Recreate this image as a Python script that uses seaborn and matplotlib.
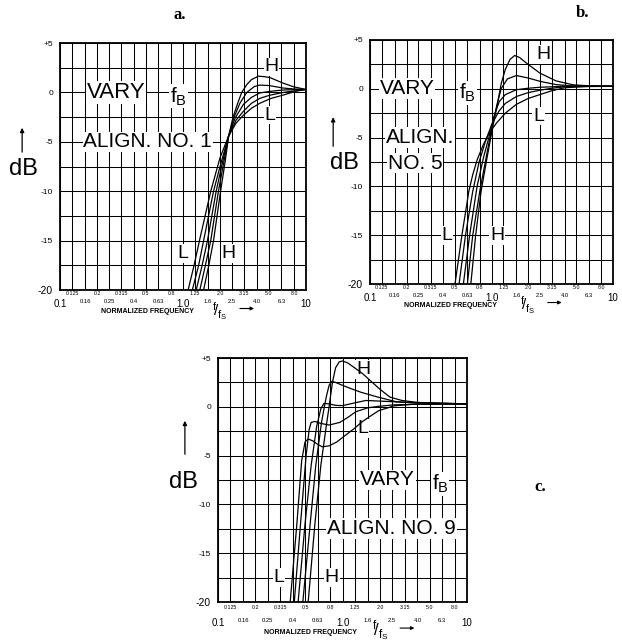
import numpy as np
import pandas as pd
import matplotlib
matplotlib.use("Agg")
import matplotlib.pyplot as plt
import seaborn as sns

# axis ticks (normalized frequency f/fs, 1/3-octave steps)
major_freq = [0.1, 0.16, 0.25, 0.4, 0.63, 1.0, 1.6, 2.5, 4.0, 6.3, 10]
major_freq_labels = ["0.1", "0.16", "0.25", "0.4", "0.63", "1.0", "1.6", "2.5", "4.0", "6.3", "10"]
minor_freq = [0.125, 0.2, 0.315, 0.5, 0.8, 1.25, 2.0, 3.15, 5.0, 8.0]
minor_freq_labels = ["0.125", "0.2", "0.315", "0.5", "0.8", "1.25", "2.0", "3.15", "5.0", "8.0"]
db_ticks = [5, 0, -5, -10, -15, -20]
db_tick_labels = ["+5", "0", "-5", "-10", "-15", "-20"]
db_minor = [2.5, -2.5, -7.5, -12.5, -17.5]

# --- a. ALIGN. NO. 1 (curves H ... L)
a_f_H = [1.47, 1.62, 1.77, 2.02, 2.2, 2.35, 2.55, 2.8, 3.0, 3.3, 3.6, 4.1, 4.6, 5.1, 6.5, 7.9, 10]
a_db_H = [-20, -17.5, -15, -10, -7, -4.4, -2.5, -1.0, 0.0, 0.8, 1.3, 1.65, 1.6, 1.5, 0.95, 0.58, 0.3]
a_f_2 = [1.37, 1.52, 1.68, 1.94, 2.15, 2.35, 2.6, 2.9, 3.3, 3.8, 4.2, 5.0, 6.5, 8.0, 10]
a_db_2 = [-20, -17.5, -15, -10, -7, -4.4, -2.5, -1.1, 0.0, 0.6, 0.75, 0.7, 0.45, 0.35, 0.3]
a_f_3 = [1.28, 1.43, 1.58, 1.86, 2.1, 2.35, 2.65, 3.1, 3.6, 4.2, 5.0, 6.5, 8.0, 10]
a_db_3 = [-20, -17.5, -15, -10, -7, -4.4, -2.6, -1.2, -0.5, -0.05, 0.1, 0.25, 0.28, 0.3]
a_f_4 = [1.19, 1.34, 1.47, 1.77, 2.05, 2.35, 2.7, 3.1, 3.6, 4.2, 5.0, 6.5, 8.0, 10]
a_db_4 = [-20, -17.5, -15, -10, -7, -4.4, -2.8, -1.9, -1.1, -0.6, -0.3, 0.0, 0.15, 0.3]
a_f_L = [1.1, 1.23, 1.36, 1.68, 2.0, 2.35, 2.7, 3.1, 3.6, 4.2, 5.2, 6.5, 8.4, 10]
a_db_L = [-20, -17.5, -15, -10, -6.6, -4.4, -3.1, -2.3, -1.6, -1.1, -0.6, -0.27, 0.15, 0.3]

# --- b. ALIGN. NO. 5
b_f_H = [0.675, 0.74, 0.82, 0.92, 1.02, 1.12, 1.2, 1.3, 1.42, 1.55, 1.7, 1.95, 2.5, 3.4, 4.7, 6.3, 10]
b_db_H = [-20, -15, -10.5, -7, -4, -1.5, 0.5, 2.0, 3.0, 3.4, 3.2, 2.6, 1.6, 0.8, 0.4, 0.3, 0.25]
b_f_2 = [0.632, 0.70, 0.80, 0.92, 1.0, 1.1, 1.2, 1.35, 1.6, 2.0, 2.5, 3.4, 4.5, 10]
b_db_2 = [-20, -15, -10.5, -6.5, -4.2, -1.8, 0.0, 1.0, 1.35, 1.1, 0.76, 0.42, 0.3, 0.25]
b_f_3 = [0.586, 0.66, 0.76, 0.86, 0.96, 1.06, 1.16, 1.3, 1.6, 2.0, 2.5, 4.0, 10]
b_db_3 = [-20, -15, -10, -7, -4.8, -2.6, -1.3, -0.6, -0.1, 0.05, 0.15, 0.25, 0.25]
b_f_4 = [0.54, 0.61, 0.70, 0.79, 0.89, 1.0, 1.15, 1.3, 1.6, 2.0, 2.5, 3.15, 4.0, 10]
b_db_4 = [-20, -15, -10.5, -7.5, -5.4, -3.7, -2.3, -1.5, -0.8, -0.4, -0.15, 0.05, 0.2, 0.25]
b_f_L = [0.50, 0.57, 0.65, 0.70, 0.76, 0.85, 0.95, 1.1, 1.3, 1.6, 2.0, 2.5, 3.15, 4.0, 6.3, 10]
b_db_L = [-20, -15, -10.5, -8.8, -7.3, -5.8, -4.6, -3.5, -2.5, -1.6, -1.0, -0.6, -0.2, 0.1, 0.25, 0.25]

# --- c. ALIGN. NO. 9
c_f_H = [0.53, 0.60, 0.67, 0.74, 0.78, 0.83, 0.88, 0.94, 1.0, 1.1, 1.25, 1.45, 1.7, 2.0, 2.4, 3.0, 4.0, 10]
c_db_H = [-20, -12, -6, -2, 0, 2.5, 4.0, 4.6, 4.7, 4.5, 4.0, 3.4, 2.6, 1.8, 1.0, 0.65, 0.45, 0.3]
c_f_2 = [0.48, 0.55, 0.61, 0.68, 0.74, 0.78, 0.82, 0.88, 1.0, 1.15, 1.4, 1.88, 2.7, 4.0, 10]
c_db_2 = [-20, -12, -6, -1.5, 1.0, 2.2, 2.6, 2.5, 2.2, 1.9, 1.5, 1.03, 0.52, 0.4, 0.3]
c_f_3 = [0.44, 0.50, 0.56, 0.62, 0.67, 0.71, 0.78, 0.88, 1.0, 1.2, 1.54, 2.3, 4.0, 10]
c_db_3 = [-20, -12, -6, -2, -0.2, 0.35, 0.3, 0.15, 0.12, 0.35, 0.65, 0.55, 0.4, 0.3]
c_f_4 = [0.41, 0.46, 0.51, 0.54, 0.56, 0.60, 0.67, 0.78, 0.95, 1.1, 1.28, 1.6, 1.95, 2.6, 3.6, 10]
c_db_4 = [-20, -12, -5, -2.3, -1.6, -1.5, -1.7, -1.87, -1.6, -1.1, -0.5, -0.1, 0.05, 0.2, 0.25, 0.3]
c_f_L = [0.38, 0.43, 0.47, 0.50, 0.53, 0.58, 0.64, 0.69, 0.78, 0.9, 1.06, 1.25, 1.45, 1.7, 1.95, 2.6, 3.6, 10]
c_db_L = [-20, -12, -5.5, -3.6, -3.3, -3.5, -3.9, -4.1, -4.0, -3.6, -2.9, -2.2, -1.5, -0.9, -0.4, 0.1, 0.25, 0.3]

curve_names = ["H", "2", "3", "4", "L"]


def to_frame(freqs, dbs):
    rows = []
    for name, f, d in zip(curve_names, freqs, dbs):
        rows.append(pd.DataFrame({"curve": name, "freq": f, "db": d}))
    return pd.concat(rows, ignore_index=True)


sns.set_style("white")
plt.rcParams["font.family"] = ["Liberation Sans", "DejaVu Sans"]
plt.rcParams["mathtext.fontset"] = "custom"
plt.rcParams["mathtext.rm"] = "Liberation Sans"
plt.rcParams["mathtext.it"] = "Liberation Sans"
for key in ["text.color", "axes.labelcolor", "xtick.color", "ytick.color", "axes.edgecolor"]:
    plt.rcParams[key] = "black"

fig = plt.figure(figsize=(6.22, 6.43), dpi=100)

big_labels = {"0.1", "1.0", "10"}
box = dict(fc="white", ec="none", pad=0.6)


def draw_panel(ax, df, minor_pad, major_len, major_pad):
    ax.set_axisbelow(True)
    sns.lineplot(data=df, x="freq", y="db", units="curve", estimator=None,
                 sort=False, color="black", lw=0.9, ax=ax, zorder=3)
    ax.set_xscale("log")
    ax.set_xlim(0.1, 10)
    ax.set_ylim(-20, 5)

    ax.set_xticks(major_freq)
    ax.set_xticklabels(major_freq_labels)
    ax.set_xticks(minor_freq, minor=True)
    ax.set_xticklabels(minor_freq_labels, minor=True)
    ax.set_yticks(db_ticks)
    ax.set_yticklabels(db_tick_labels)
    ax.set_yticks(db_minor, minor=True)
    ax.set_yticklabels([], minor=True)

    ax.tick_params(axis="x", which="major", direction="out", length=major_len, width=0.9,
                   pad=major_pad, labelsize=4.2)
    ax.tick_params(axis="x", which="minor", length=0, pad=minor_pad, labelsize=3.8)
    ax.tick_params(axis="y", which="both", direction="out", length=3.5, width=0.9,
                   pad=1.5, labelsize=6)
    for lbl in ax.get_xticklabels():
        if lbl.get_text() in big_labels:
            lbl.set_fontsize(7)
    for lbl in ax.get_yticklabels():
        if lbl.get_text() == "-20":
            lbl.set_fontsize(7.5)

    ax.grid(True, which="both", color="black", lw=0.75)
    for s in ax.spines.values():
        s.set_linewidth(1.3)
    ax.set_xlabel("")
    ax.set_ylabel("")


# layout (figure fractions)
ax_a = fig.add_axes([0.0965, 0.549, 0.3955, 0.384])
ax_b = fig.add_axes([0.595, 0.558, 0.3905, 0.38])
ax_c = fig.add_axes([0.3505, 0.0638, 0.4003, 0.3794])

draw_panel(ax_a, to_frame([a_f_H, a_f_2, a_f_3, a_f_4, a_f_L],
                          [a_db_H, a_db_2, a_db_3, a_db_4, a_db_L]), 0.8, 4, 2.5)
draw_panel(ax_b, to_frame([b_f_H, b_f_2, b_f_3, b_f_4, b_f_L],
                          [b_db_H, b_db_2, b_db_3, b_db_4, b_db_L]), 0.8, 4, 2.5)
draw_panel(ax_c, to_frame([c_f_H, c_f_2, c_f_3, c_f_4, c_f_L],
                          [c_db_H, c_db_2, c_db_3, c_db_4, c_db_L]), 2.5, 4.3, 7)


def txt(ax, x, y, s, size=15, ha="left"):
    ax.text(x, y, s, fontsize=size, ha=ha, va="center", bbox=box, zorder=2.5)


# panel a texts
txt(ax_a, 0.165, 0, "VARY", 16)
txt(ax_a, 0.78, -0.4, r"f$_{\mathregular{B}}$")
txt(ax_a, 0.155, -5, "ALIGN. NO. 1")
txt(ax_a, 4.6, 2.6, "H", 14)
txt(ax_a, 4.6, -2.3, "L", 14)
txt(ax_a, 1.0, -16.3, "L", 14, "center")
txt(ax_a, 2.35, -16.3, "H", 14, "center")

# panel b texts
txt(ax_b, 0.12, 0, "VARY")
txt(ax_b, 0.54, -0.4, r"f$_{\mathregular{B}}$")
txt(ax_b, 0.135, -5, "ALIGN.")
txt(ax_b, 0.14, -7.6, "NO. 5")
txt(ax_b, 2.35, 3.5, "H", 14)
txt(ax_b, 2.2, -2.8, "L", 14)
txt(ax_b, 0.43, -15, "L", 14, "center")
txt(ax_b, 1.11, -15, "H", 14, "center")

# panel c texts
txt(ax_c, 1.38, -7.5, "VARY")
txt(ax_c, 5.2, -7.9, r"f$_{\mathregular{B}}$")
txt(ax_c, 0.75, -12.5, "ALIGN. NO. 9")
txt(ax_c, 1.46, 3.8, "H", 14, "center")
txt(ax_c, 1.46, -2.2, "L", 14, "center")
txt(ax_c, 0.31, -17.5, "L", 14, "center")
txt(ax_c, 0.82, -17.5, "H", 14, "center")

# dB labels with arrows, axis captions
for ax, dbx, dby, arx, ary0, ary1, nfx, nfy, ffx, ffy, ffs, arr in [
        (ax_a, -0.15, 0.49, -0.154, 0.547, 0.668, 0.354, -0.089, 0.648, -0.085, 11, (0.72, 0.80, -0.075)),
        (ax_b, -0.107, 0.496, -0.152, 0.553, 0.695, 0.33, -0.089, 0.648, -0.085, 11, (0.72, 0.80, -0.075)),
        (ax_c, -0.137, 0.49, -0.133, 0.594, 0.754, 0.37, -0.127, 0.65, -0.118, 12, (0.72, 0.80, -0.107))]:
    ax.text(dbx, dby, "dB", transform=ax.transAxes, fontsize=17, ha="center", va="center")
    ax.annotate("", xy=(arx, ary1), xytext=(arx, ary0), xycoords="axes fraction",
                arrowprops=dict(arrowstyle="-|>", color="black", lw=0.9,
                                mutation_scale=6))
    ax.text(nfx, nfy, "NORMALIZED FREQUENCY", transform=ax.transAxes,
            fontsize=5, ha="center", va="center", fontweight="bold")
    ax.text(ffx, ffy, r"$^{f}\!/_{f_S}$", transform=ax.transAxes,
            fontsize=ffs, ha="center", va="center")
    ax.annotate("", xy=(arr[1], arr[2]), xytext=(arr[0], arr[2]),
                xycoords="axes fraction",
                arrowprops=dict(arrowstyle="-|>", color="black", lw=0.8,
                                mutation_scale=5))

# panel titles
title_font = dict(family=["Liberation Serif", "DejaVu Serif"], fontweight="bold", fontsize=12)
fig.text(0.289, 0.977, "a.", ha="center", va="center", **title_font)
fig.text(0.937, 0.98, "b.", ha="center", va="center", **title_font)
fig.text(0.868, 0.243, "c.", ha="center", va="center", **title_font)

fig.savefig("out.png", dpi=100, facecolor="white")
